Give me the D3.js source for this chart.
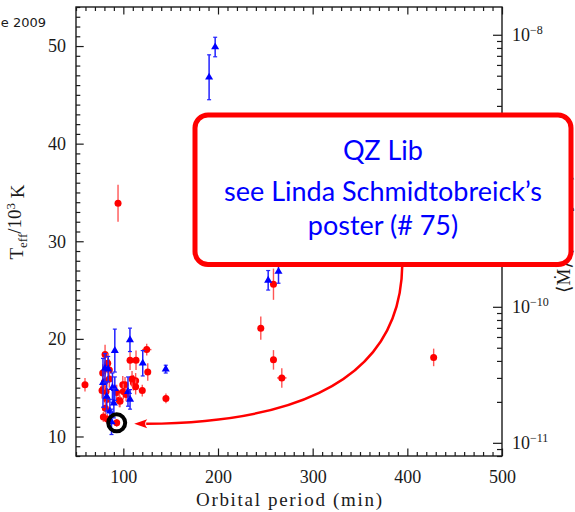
<!DOCTYPE html>
<html>
<head>
<meta charset="utf-8">
<script src="https://cdn.jsdelivr.net/npm/d3@7"></script>
<style>
  body { margin: 0; background: #fff; }
  svg { display: block; }
</style>
</head>
<body>
<svg id="chart" width="575" height="512"></svg>
<script>
// red circles: period (min), Teff (kK), error in Teff, error in period
var redPeriod = [59.5, 80.7, 78.2, 78.9, 77.5, 81.7, 82.4, 81.0, 78.9, 83.0, 85.2, 85.2, 83.5, 93.0, 93.0, 95.8, 99.4, 101.8, 100.0, 94.4,
                 124.7, 107.1, 113.4, 125.8, 110.6, 113.0, 113.0, 120.0, 102.9, 96.5, 145.0, 109.2, 258.6, 245.2, 258.6, 267.4, 427.8, 80.2];
var redTeff   = [15.3, 18.4, 16.5, 14.9, 14.7, 14.6, 13.8, 12.9, 12.0, 11.8, 16.8, 15.9, 17.5, 11.4, 14.5, 13.7, 15.3, 15.3, 14.6, 33.9,
                 18.9, 17.8, 17.8, 16.6, 15.5, 15.7, 15.1, 14.7, 14.3, 13.6, 13.9, 15.9, 25.6, 21.1, 17.85, 16.0, 18.1, 15.6];
var redErr    = [0.7, 1.0, 0.9, 0.8, 0.8, 0.9, 0.8, 0.7, 0.5, 0.5, 1.1, 0.9, 1.0, 0.4, 0.8, 0.7, 0.9, 0.8, 0.8, 1.9,
                 0.6, 1.0, 1.0, 0.9, 0.8, 0.8, 0.8, 0.6, 0.7, 0.6, 0.5, 0.8, 1.6, 1.2, 1.0, 1.0, 0.9, 0.8];
var redPeriodErr = [0, 0, 0, 0, 0, 0, 0, 0, 0, 0, 0, 0, 0, 0, 0, 0, 0, 0, 0, 0,
                    5, 0, 0, 0, 0, 0, 0, 0, 0, 0, 0, 0, 0, 0, 0, 5, 0, 0];

// blue triangles
var bluePeriod = [190.6, 197.0, 253.0, 263.9, 91.0, 107.0, 120.5, 144.8, 78.5, 82.4, 88.5, 91.0, 85.8, 80.7, 84.0, 104.9, 107.1, 90.0, 87.5];
var blueTeff   = [46.8, 49.9, 26.0, 26.9, 18.8, 19.9, 17.5, 16.9, 15.5, 14.1, 15.0, 14.9, 12.6, 17.0, 16.9, 14.6, 13.8, 13.4, 11.5];
var blueErr    = [2.3, 1.0, 1.0, 1.2, 2.2, 1.2, 1.3, 0.4, 2.5, 1.5, 1.5, 1.2, 1.2, 1.5, 1.3, 1.5, 1.0, 1.5, 1.3];

var highlightIndex = 13;   // QZ Lib
var periodMajor = [100, 200, 300, 400, 500];
var teffMajor = [10, 20, 30, 40, 50];
var mdotMajor = [1e-8, 1e-9, 1e-10, 1e-11];
var mdotLabelled = [1e-8, 1e-10, 1e-11];   // 1e-9 sits behind the callout
var boxLines = ["QZ Lib", "see Linda Schmidtobreick\u2019s", "poster (# 75)"];

var svg = d3.select("#chart");
var plotLeft = 76, plotRight = 502, plotTop = 7, plotBottom = 456;
var serif = "'Liberation Serif', 'DejaVu Serif', serif";
var ink = "#1a1a1a";

var x = d3.scaleLinear().domain([50, 500]).range([plotLeft, plotRight]);
var y = d3.scaleLinear().domain([8, 54]).range([plotBottom, plotTop]);
var yR = d3.scaleLog().domain([8e-12, 1.6e-8]).range([plotBottom, plotTop]);

function styleAxis(g)
{
	g.select(".domain").remove();
	g.selectAll(".tick line").attr("stroke", ink).attr("stroke-width", 1.2);
	g.selectAll(".tick text").attr("font-family", serif).attr("font-size", "18px").attr("fill", ink);
}

var minorPeriod = d3.range(50, 501, 10).filter(function(d) { return d % 100 != 0; });
var minorTeff = d3.range(8, 55, 1).filter(function(d) { return d % 10 != 0; });
var minorMdot = [];
[-12, -11, -10, -9, -8].forEach(function(e)
{
	for (var k = 2; k <= 9; k++)
	{
		var v = k * Math.pow(10, e);
		if (v >= 8e-12 && v <= 1.6e-8) minorMdot.push(v);
	}
});

// bottom axis
svg.append("g").attr("transform", "translate(0," + plotBottom + ")")
	.call(d3.axisBottom(x).tickValues(periodMajor).tickSize(-7.5).tickPadding(14).tickFormat(d3.format("d")))
	.call(styleAxis);
svg.append("g").attr("transform", "translate(0," + plotBottom + ")")
	.call(d3.axisBottom(x).tickValues(minorPeriod).tickSize(-4).tickFormat(""))
	.call(styleAxis);
// top axis
svg.append("g").attr("transform", "translate(0," + plotTop + ")")
	.call(d3.axisTop(x).tickValues(periodMajor).tickSize(-7.5).tickFormat(""))
	.call(styleAxis);
svg.append("g").attr("transform", "translate(0," + plotTop + ")")
	.call(d3.axisTop(x).tickValues(minorPeriod).tickSize(-4).tickFormat(""))
	.call(styleAxis);
// left axis
svg.append("g").attr("transform", "translate(" + plotLeft + ",0)")
	.call(d3.axisLeft(y).tickValues(teffMajor).tickSize(-7.7).tickPadding(10).tickFormat(d3.format("d")))
	.call(styleAxis);
svg.append("g").attr("transform", "translate(" + plotLeft + ",0)")
	.call(d3.axisLeft(y).tickValues(minorTeff).tickSize(-4.3).tickFormat(""))
	.call(styleAxis);
// right axis (log)
svg.append("g").attr("transform", "translate(" + plotRight + ",0)")
	.call(d3.axisRight(yR).tickValues(mdotMajor).tickSize(-9).tickFormat(""))
	.call(styleAxis);
var rightAxis = svg.append("g").attr("transform", "translate(" + plotRight + ",0)")
	.call(d3.axisRight(yR).tickValues(mdotLabelled).tickSize(0).tickPadding(10).tickFormat(function() { return ""; }))
	.call(styleAxis);
rightAxis.selectAll(".tick text").each(function(d)
{
	var t = d3.select(this);
	t.text("10");
	t.append("tspan").attr("dy", "-0.6em").attr("font-size", "12px")
		.text("\u2212" + Math.round(-Math.log10(d)));
});
svg.append("g").attr("transform", "translate(" + plotRight + ",0)")
	.call(d3.axisRight(yR).tickValues(minorMdot).tickSize(-5).tickFormat(""))
	.call(styleAxis);

// frame
svg.append("rect")
	.attr("x", plotLeft).attr("y", plotTop)
	.attr("width", plotRight - plotLeft).attr("height", plotBottom - plotTop)
	.attr("fill", "none").attr("stroke", ink).attr("stroke-width", 1.4);

// axis titles
svg.append("text")
	.attr("x", (plotLeft + plotRight) / 2).attr("y", 506)
	.attr("text-anchor", "middle")
	.attr("font-family", serif).attr("font-size", "19px").attr("fill", ink)
	.attr("textLength", 186).attr("lengthAdjust", "spacing")
	.text("Orbital period (min)");

var yTitle = svg.append("text")
	.attr("transform", "translate(23,222) rotate(-90)")
	.attr("text-anchor", "middle")
	.attr("font-family", serif).attr("font-size", "19px").attr("fill", ink);
yTitle.append("tspan").text("T");
yTitle.append("tspan").attr("dy", "0.3em").attr("font-size", "13px").text("eff");
yTitle.append("tspan").attr("dy", "-0.3em").text("/10");
yTitle.append("tspan").attr("dy", "-0.5em").attr("font-size", "13px").text("3");
yTitle.append("tspan").attr("dy", "0.5em").text(" K");

svg.append("text")
	.attr("transform", "translate(570,293) rotate(-90)")
	.attr("font-family", serif).attr("font-size", "19px").attr("fill", ink)
	.text("\u27E8M\u0307\u27E9 (M\u2609 yr\u207B\u00B9)");

svg.append("text")
	.attr("x", 46).attr("y", 27)
	.attr("text-anchor", "end")
	.attr("font-family", "'DejaVu Sans', sans-serif").attr("font-size", "13px").attr("fill", ink)
	.text("e 2009");

// red points
var red = svg.append("g");
redPeriod.forEach(function(p, i)
{
	red.append("line")
		.attr("x1", x(p)).attr("x2", x(p))
		.attr("y1", y(redTeff[i] - redErr[i])).attr("y2", y(redTeff[i] + redErr[i]))
		.attr("stroke", "#f55").attr("stroke-width", 1.4);
	if (redPeriodErr[i] > 0)
	{
		red.append("line")
			.attr("x1", x(p - redPeriodErr[i])).attr("x2", x(p + redPeriodErr[i]))
			.attr("y1", y(redTeff[i])).attr("y2", y(redTeff[i]))
			.attr("stroke", "#f55").attr("stroke-width", 1.4);
	}
	red.append("circle")
		.attr("cx", x(p)).attr("cy", y(redTeff[i]))
		.attr("r", 3.5).attr("fill", "#f00");
});

// blue points
var blue = svg.append("g");
var tri = d3.symbol().type(d3.symbolTriangle).size(28);
bluePeriod.forEach(function(p, i)
{
	var px = x(p), lo = y(blueTeff[i] - blueErr[i]), hi = y(blueTeff[i] + blueErr[i]);
	blue.append("line")
		.attr("x1", px).attr("x2", px).attr("y1", lo).attr("y2", hi)
		.attr("stroke", "#22f").attr("stroke-width", 1.5);
	[lo, hi].forEach(function(v)
	{
		blue.append("line")
			.attr("x1", px - 2).attr("x2", px + 2).attr("y1", v).attr("y2", v)
			.attr("stroke", "#22f").attr("stroke-width", 1.2);
	});
	blue.append("path")
		.attr("d", tri)
		.attr("transform", "translate(" + px + "," + y(blueTeff[i]) + ")")
		.attr("fill", "#00f");
});

// highlighted object
var hx = x(redPeriod[highlightIndex]), hy = y(redTeff[highlightIndex]);
svg.append("circle")
	.attr("cx", hx).attr("cy", hy).attr("r", 8.5)
	.attr("fill", "none").attr("stroke", "#000").attr("stroke-width", 4);

// callout box geometry
var box = { x: 195, y: 115, w: 376, h: 149.5 };
var startX = 402.3, startY = box.y + box.h;
var tipX = hx + 17.5, tipY = hy + 1;
var backX = tipX + 12;

svg.append("path")
	.attr("d", "M" + startX + "," + startY + " Q" + (startX - 2) + "," + (tipY - 2) + " " + backX + "," + tipY)
	.attr("fill", "none").attr("stroke", "#f00").attr("stroke-width", 2.5);
svg.append("path")
	.attr("d", "M" + tipX + "," + tipY +
		" L" + (backX + 1) + "," + (tipY - 4.5) +
		" Q" + (backX - 3) + "," + tipY + " " + (backX + 1) + "," + (tipY + 4.5) + " Z")
	.attr("fill", "#f00");

svg.append("rect")
	.attr("x", box.x).attr("y", box.y).attr("width", box.w).attr("height", box.h)
	.attr("rx", 13).attr("ry", 13)
	.attr("fill", "#fff").attr("stroke", "#f00").attr("stroke-width", 5);

var baselines = [160, 200.5, 235];
svg.append("g").selectAll("text").data(boxLines).enter().append("text")
	.attr("x", box.x + box.w / 2)
	.attr("y", function(d, i) { return baselines[i]; })
	.attr("text-anchor", "middle")
	.attr("font-family", "Lato, 'Open Sans', sans-serif").attr("font-size", "27px")
	.attr("fill", "#00f")
	.text(function(d) { return d; });
</script>
</body>
</html>
